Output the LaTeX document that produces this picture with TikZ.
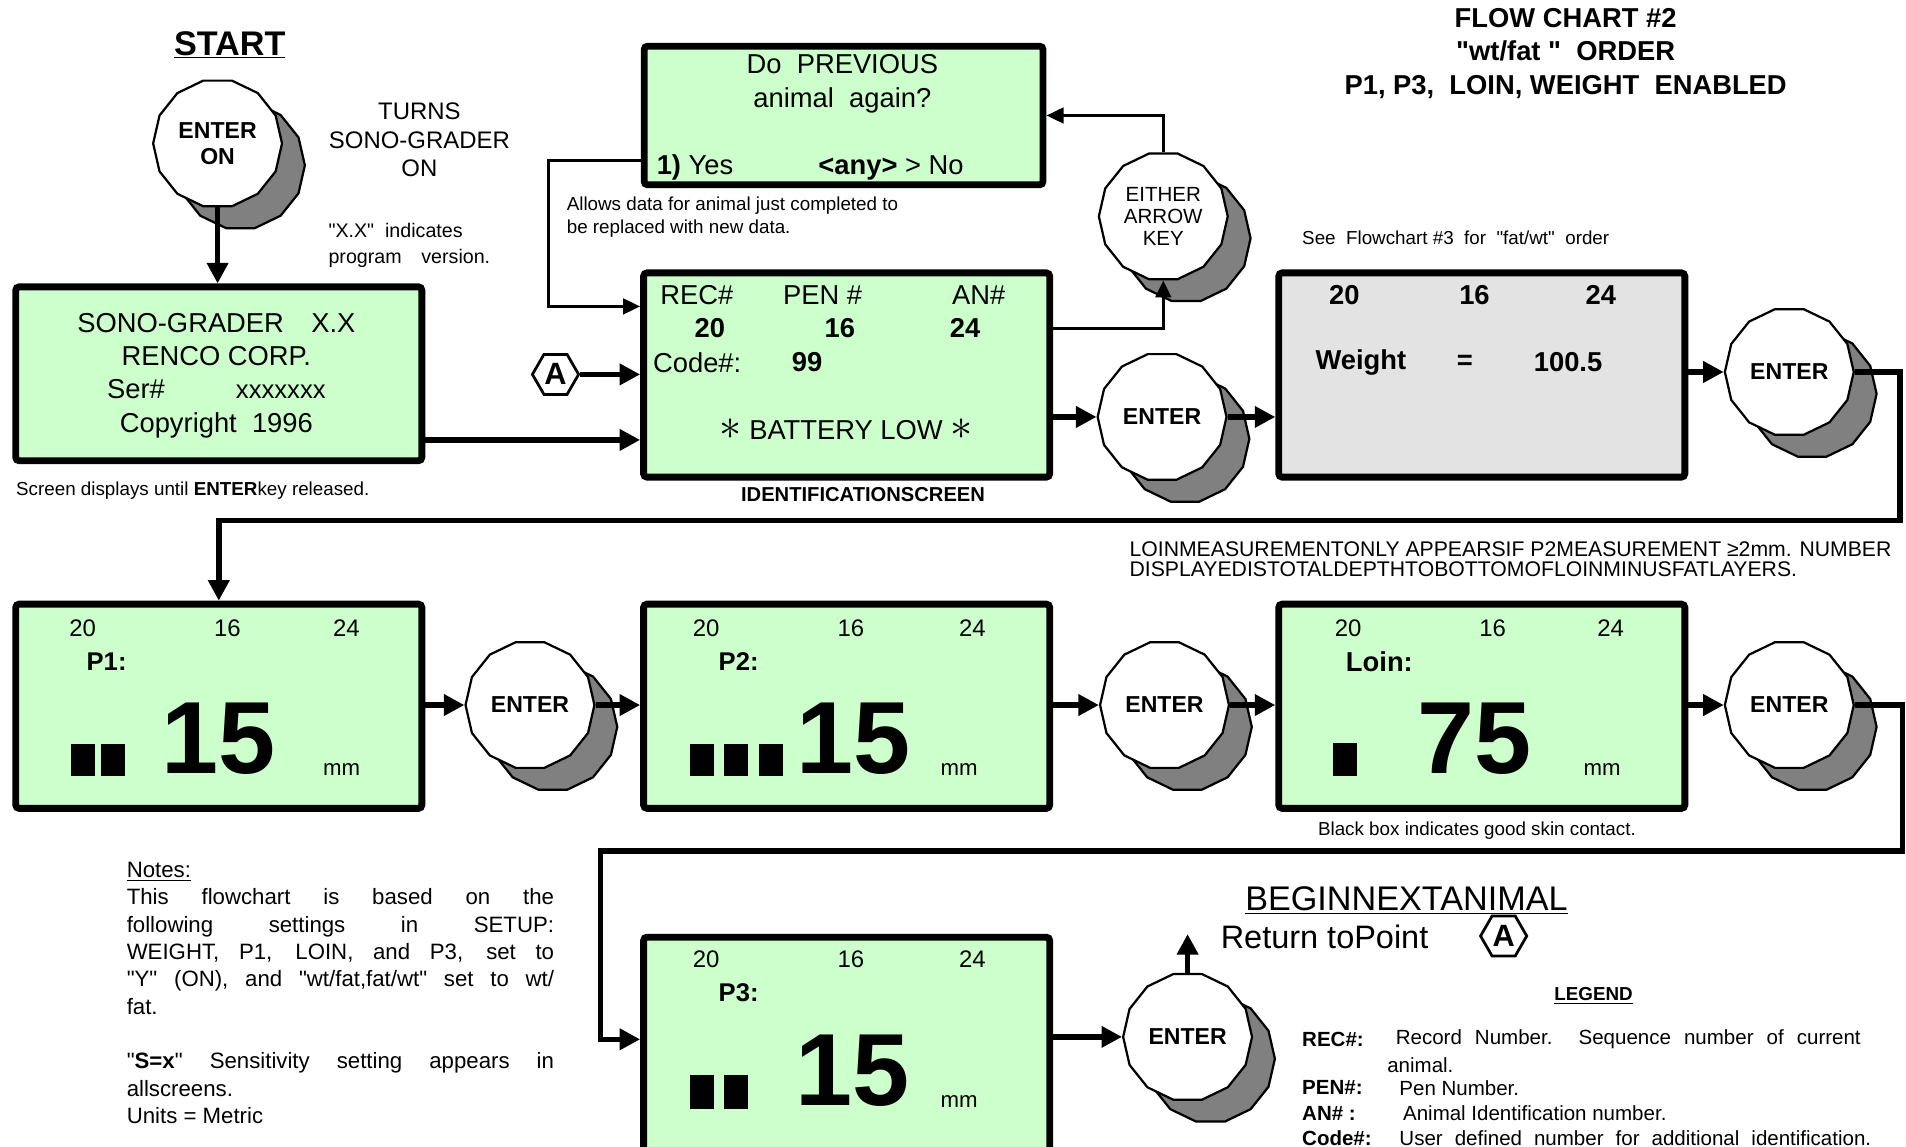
\documentclass[tikz,border=0pt]{standalone}
\usepackage{fontspec}
\setmainfont{Liberation Sans}[Ligatures=TeXOff]
\usepackage{tikz}
\usetikzlibrary{shapes.geometric, arrows.meta, positioning, shadows, calc}

\definecolor{lcdgreen}{RGB}{204,255,204}
\definecolor{lcdgray}{RGB}{227,227,227}
\definecolor{keyshade}{RGB}{128,128,128}

\begin{document}
\begin{tikzpicture}[
    x=0.025cm, y=-0.025cm,
    lcd/.style={rectangle, draw, line width=4pt, rounded corners=2pt, fill=#1, minimum width=8.35cm, minimum height=4.2cm, inner sep=0pt},
    keybtn/.style={regular polygon, regular polygon sides=14, draw, line width=1.3pt, fill=white, minimum size=2.65cm, inner sep=0pt, align=center, font=\fontsize{13.5}{15}\selectfont\bfseries, drop shadow={shadow xshift=0.47cm, shadow yshift=-0.45cm, fill=keyshade, draw=black, line width=1.3pt, opacity=1}},
    ptlabel/.style={regular polygon, regular polygon sides=6, draw, line width=1.6pt, fill=white, minimum size=0.95cm, inner sep=0pt, font=\fontsize{18}{18}\selectfont\bfseries},
    mainline/.style={line width=3.2pt, -{Triangle[length=12pt, width=12pt]}},
    loopline/.style={line width=2pt, -{Triangle[length=10pt, width=9pt]}},
    lcdtext/.style={font=\fontsize{16}{19}\selectfont, inner sep=0pt},
    lcdbold/.style={font=\fontsize{16}{19}\selectfont\bfseries, inner sep=0pt},
    rowtext/.style={font=\fontsize{14}{16}\selectfont, inner sep=0pt},
    rowlabel/.style={font=\fontsize{15}{17}\selectfont\bfseries, inner sep=0pt, anchor=west},
    bignum/.style={font=\fontsize{60}{60}\selectfont\bfseries, inner sep=0pt},
    note/.style={font=\fontsize{11}{13.5}\selectfont, inner sep=0pt, align=left},
    legkey/.style={font=\fontsize{12}{14}\selectfont\bfseries, inner sep=0pt, anchor=west},
    legtext/.style={font=\fontsize{12}{14}\selectfont, inner sep=0pt, anchor=west}
]
\useasboundingbox (0,0) rectangle (1568,943);

% Start
\node[font=\fontsize{20}{24}\selectfont\bfseries, inner sep=0pt] (start) at (189,37) {\underline{START}};
\node[keybtn] (enteron) at (179,118) {ENTER\\ON};
\node[rowtext, align=center, font=\fontsize{14}{16.7}\selectfont] (turns) at (345,115) {TURNS\\SONO-GRADER\\ON};
\node[note, anchor=west, font=\fontsize{11.5}{15.5}\selectfont] (verinfo) at (270,202) {"X.X"\ \ indicates\\program\quad version.};

% Power-on screen
\node[lcd=lcdgreen, minimum height=3.575cm] (sono) at (180,307.5) {};
\node[lcdtext, align=center, font=\fontsize{16}{19.4}\selectfont] (sonotext) at (178,309) {SONO-GRADER\quad X.X\\RENCO CORP.\\Ser\#\hspace{2.6em}{\fontsize{15}{15}\selectfont xxxxxxx}\\Copyright\ \ 1996};
\node[note, anchor=west] (holdnote) at (13,404) {Screen displays until \textbf{ENTER}key released.};

% Repeat question
\node[lcd=lcdgreen, minimum width=8.2cm, minimum height=2.85cm] (prev) at (694,95) {};
\node[lcdtext, align=center, font=\fontsize{16}{20}\selectfont] (prevq) at (693,69) {Do\ \ PREVIOUS\\animal\ \ again?};
\node[lcdtext, anchor=west] (prevyes) at (540,138) {\textbf{1)}\ Yes};
\node[lcdtext, anchor=west] (prevno) at (673,138) {\textbf{<any>} > No};
\node[note, anchor=west] (replnote) at (466,178.5) {Allows data for animal just completed to\\be replaced with new data.};
\node[keybtn, font=\fontsize{12}{12.7}\selectfont] (either) at (957,178) {EITHER\\ARROW\\KEY};

% Identification screen
\node[lcd=lcdgreen] (ident) at (696.5,308.5) {};
\node[lcdtext, anchor=west] (hrec) at (543,243) {REC\#};
\node[lcdtext, anchor=west] (hpen) at (644,243) {PEN \#};
\node[lcdtext, anchor=west] (han) at (783,243) {AN\#};
\node[lcdbold] (vrec) at (584,270) {20};
\node[lcdbold] (vpen) at (691,270) {16};
\node[lcdbold] (van) at (794,270) {24};
\node[lcdtext, anchor=west] (hcode) at (537,298) {Code\#:};
\node[lcdbold] (vcode) at (664,298) {99};
\node[lcdtext] (battery) at (696,353) {\scalebox{1.5}{$\ast$} BATTERY LOW \scalebox{1.5}{$\ast$}};
\node[font=\fontsize{11.8}{13}\selectfont\bfseries, inner sep=0pt] (identlabel) at (710,407) {IDENTIFICATIONSCREEN};
\node[ptlabel] (ptA) at (457,308) {A};
\node[keybtn] (enter1) at (956,343) {ENTER};

% Weight screen
\node[font=\fontsize{16}{19.5}\selectfont\bfseries, align=center, inner sep=0pt] (title) at (1288,44) {FLOW CHART \#2\\"wt/fat "\ \ ORDER\\P1, P3,\ \ LOIN, WEIGHT\ \ ENABLED};
\node[note, anchor=west] (fatnote) at (1071,196) {See\ \ Flowchart \#3\ \ for\ \ "fat/wt"\ \ order};
\node[lcd=lcdgray] (weight) at (1219,308.5) {};
\node[lcdbold] (wrec) at (1106,243) {20};
\node[lcdbold] (wpen) at (1213,243) {16};
\node[lcdbold] (wan) at (1317,243) {24};
\node[lcdbold, anchor=west] (wlabel) at (1082,298) {Weight};
\node[lcdbold] (weq) at (1205,298) {=};
\node[lcdbold] (wval) at (1290,298) {100.5};
\node[keybtn] (enter2) at (1472,306) {ENTER};

% Fat depth screens
\node[note, anchor=west, font=\fontsize{12.4}{11.5}\selectfont] (loinnote) at (929,460) {LOINMEASUREMENTONLY APPEARSIF P2MEASUREMENT ≥2mm. NUMBER\\DISPLAYEDISTOTALDEPTHTOBOTTOMOFLOINMINUSFATLAYERS.};

\node[lcd=lcdgreen] (p1) at (180,581) {};
\node[rowtext] (p1rec) at (68,517) {20};
\node[rowtext] (p1pen) at (187,517) {16};
\node[rowtext] (p1an) at (285,517) {24};
\node[rowlabel] (p1name) at (71,544) {P1:};
\node[bignum] (p1val) at (180,608) {15};
\node[rowtext, font=\fontsize{13}{15}\selectfont] (p1unit) at (281,633) {mm};
\fill (58,612) rectangle (78,638);
\fill (83,612) rectangle (103,638);
\node[keybtn] (enter3) at (436,580) {ENTER};

\node[lcd=lcdgreen] (p2) at (696.5,581) {};
\node[rowtext] (p2rec) at (581,517) {20};
\node[rowtext] (p2pen) at (700,517) {16};
\node[rowtext] (p2an) at (800,517) {24};
\node[rowlabel] (p2name) at (591,544) {P2:};
\node[bignum] (p2val) at (702,608) {15};
\node[rowtext, font=\fontsize{13}{15}\selectfont] (p2unit) at (789,633) {mm};
\fill (568,612) rectangle (587,638);
\fill (596,612) rectangle (615,638);
\fill (624,612) rectangle (644,638);
\node[keybtn] (enter4) at (958,580) {ENTER};

\node[lcd=lcdgreen] (loin) at (1219,581) {};
\node[rowtext] (lrec) at (1109,517) {20};
\node[rowtext] (lpen) at (1228,517) {16};
\node[rowtext] (lan) at (1325,517) {24};
\node[rowlabel, font=\fontsize{16}{18}\selectfont\bfseries] (lname) at (1107,544) {Loin:};
\node[bignum] (lval) at (1213,608) {75};
\node[rowtext, font=\fontsize{13}{15}\selectfont] (lunit) at (1318,633) {mm};
\fill (1097,611) rectangle (1116,638);
\node[note] (contactnote) at (1215,683) {Black box indicates good skin contact.};
\node[keybtn] (enter5) at (1472,580) {ENTER};

\node[lcd=lcdgreen, minimum height=4.6cm] (p3) at (696.5,863) {};
\node[rowtext] (p3rec) at (581,789) {20};
\node[rowtext] (p3pen) at (700,789) {16};
\node[rowtext] (p3an) at (800,789) {24};
\node[rowlabel] (p3name) at (591,817) {P3:};
\node[bignum] (p3val) at (701,881) {15};
\node[rowtext, font=\fontsize{13}{15}\selectfont] (p3unit) at (789,906) {mm};
\fill (568,884) rectangle (587,912);
\fill (596,884) rectangle (615,912);
\node[keybtn] (enter6) at (977,853) {ENTER};

% Next animal
\node[font=\fontsize{20}{24}\selectfont, inner sep=0pt] (nextanimal) at (1157,741) {\underline{BEGINNEXTANIMAL}};
\node[font=\fontsize{19}{22}\selectfont, anchor=west, inner sep=0pt] (returnto) at (1004,771) {Return toPoint};
\node[ptlabel] (ptAret) at (1237,770) {A};

% Notes
\node[font=\fontsize{13}{16}\selectfont, text width=250pt, align=justify, anchor=north west, inner sep=0pt] (notes) at (104,709) {\underline{Notes:}\\ This flowchart is based on the\linebreak following settings in SETUP:\linebreak WEIGHT, P1, LOIN, and P3, set to\linebreak "Y" (ON), and "wt/fat,fat/wt" set to wt/\linebreak fat.\par\vspace{16pt}"\textbf{S=x}" Sensitivity setting appears in\linebreak allscreens.\\Units = Metric};

% Legend
\node[font=\fontsize{11}{13}\selectfont\bfseries, inner sep=0pt] (legend) at (1311,819) {\underline{LEGEND}};
\node[legkey] (krec) at (1071,855) {REC\#:};
\node[legtext] (trec) at (1148,855) {\makebox[272pt][s]{Record Number.\ \ Sequence number of current}};
\node[legtext] (trec2) at (1141,876) {animal.};
\node[legkey] (kpen) at (1071,895) {PEN\#:};
\node[legtext] (tpen) at (1151,895) {Pen Number.};
\node[legkey] (kan) at (1071,916) {AN\# :};
\node[legtext] (tan) at (1154,916) {Animal Identification number.};
\node[legkey] (kcode) at (1071,936) {Code\#:};
\node[legtext] (tcode) at (1151,936) {\makebox[276pt][s]{User defined number for additional identification.}};

% Turn-on and identification arrows
\draw[mainline] (enteron.south) -- (enteron.south |- sono.north);
\draw[mainline] ([yshift=-1.36cm]sono.east) -- ([yshift=-1.36cm]sono.east -| ident.west);
\draw[mainline] (ptA.east) -- (ptA.east -| ident.west);

% Repeat loop
\draw[loopline] ([yshift=-0.93cm]prev.west) -| ([xshift=-1.88cm, yshift=1.41cm]ident.west) -- ([yshift=1.41cm]ident.west);
\draw[loopline] ([yshift=0.96cm]ident.east) -| (either.south);
\draw[loopline] (either.north) |- (prev.east);

% Row 1
\draw[mainline] (ident.east |- enter1.west) -- (enter1.west);
\draw[mainline] (enter1.east) -- (enter1.east -| weight.west);
\draw[mainline] (weight.east |- enter2.west) -- (enter2.west);
\coordinate (row1turn) at (1563,428);
\draw[mainline] (enter2.east) -| (row1turn) -| (p1.north);

% Row 2
\draw[mainline] (p1.east |- enter3.west) -- (enter3.west);
\draw[mainline] (enter3.east) -- (enter3.east -| p2.west);
\draw[mainline] (p2.east |- enter4.west) -- (enter4.west);
\draw[mainline] (enter4.east) -- (enter4.east -| loin.west);
\draw[mainline] (loin.east |- enter5.west) -- (enter5.west);
\coordinate (row2turn) at (1565,700);
\coordinate (row3turn) at (494,700);
\draw[mainline] (enter5.east) -| (row2turn) -- (row3turn) |- ([yshift=0.2cm]p3.west);

% Row 3
\draw[mainline] (p3.east |- enter6.west) -- (enter6.west);
\coordinate[above=0.8cm of enter6.north] (nextup);
\draw[mainline] (enter6.north) -- (nextup);

\end{tikzpicture}
\end{document}
